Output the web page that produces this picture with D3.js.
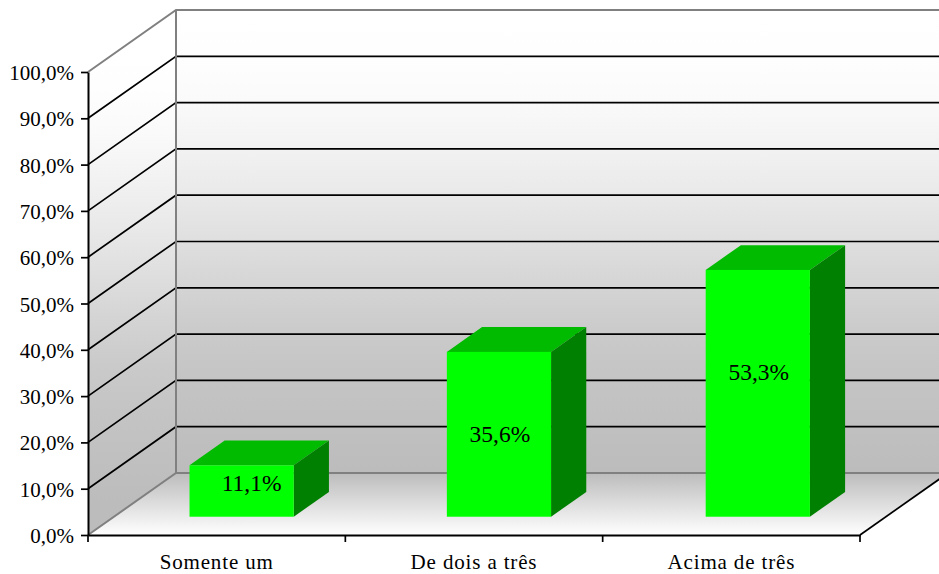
<!DOCTYPE html>
<html>
<head>
<meta charset="utf-8">
<script src="https://cdn.jsdelivr.net/npm/d3@7"></script>
<style>
html,body{margin:0;padding:0;background:#fff;overflow:hidden}
svg{display:block}
text{font-family:"Liberation Serif",serif;fill:#000}
</style>
</head>
<body>
<svg id="chart" width="939" height="574"></svg>
<script>
const categories = ["Somente um", "De dois a três", "Acima de três"];
const percentages = [11.1, 35.6, 53.3];
const tickValues = [0, 10, 20, 30, 40, 50, 60, 70, 80, 90, 100];

// Pseudo-3D frame: front plane plus the offset of the back wall.
const plot = {left: 88, right: 860, top: 72, bottom: 535};
const depth = {dx: 88, dy: -62};
const barDepthStart = 0.295, barDepthEnd = 0.695;
// Hand placement of the value labels, relative to each bar's front face centre.
const labelNudge = [[10, -8], [1, 0], [1, -21]];
const barNudge = [-1, -1, 0.5];

// Wall shading: height on the back wall paired with its grey.
const wallStops = [[10, "#ffffff"], [56, "#fefefe"], [102, "#fafafa"], [148, "#f2f2f2"],
  [195, "#e9e9e9"], [241, "#dfdfdf"], [288, "#d4d4d4"], [334, "#cacaca"],
  [381, "#c4c4c4"], [427, "#c0c0c0"], [473, "#bcbcbc"]];

const fmt = v => v.toFixed(1).replace(".", ",") + "%";

const svg = d3.select("#chart");
const y = d3.scaleLinear().domain([0, 100]).range([plot.bottom, plot.top]);
const x = d3.scaleBand().domain(categories).range([plot.left, plot.right]);
const barWidth = x.bandwidth() * 0.405;

const defs = svg.append("defs");
function vGradient(id, stops) {
  const y0 = stops[0][0], y1 = stops[stops.length - 1][0];
  const g = defs.append("linearGradient").attr("id", id)
    .attr("gradientUnits", "userSpaceOnUse")
    .attr("x1", 0).attr("x2", 0).attr("y1", y0).attr("y2", y1);
  stops.forEach(s => g.append("stop").attr("offset", (s[0] - y0) / (y1 - y0)).attr("stop-color", s[1]));
}
const backBottom = y(0) + depth.dy, backTop = y(100) + depth.dy;
vGradient("backWall", wallStops);
vGradient("sideWall", wallStops.map(s => [s[0] + 31, s[1]]));
vGradient("floor", [[backBottom, "#bcbcbc"], [plot.bottom, "#ffffff"]]);

const poly = pts => pts.map(p => p.join(",")).join(" ");

// Back wall, running off the right edge of the canvas
svg.append("polygon")
  .attr("points", poly([[plot.left + depth.dx, backTop], [plot.right + depth.dx, backTop],
                        [plot.right + depth.dx, backBottom], [plot.left + depth.dx, backBottom]]))
  .attr("fill", "url(#backWall)");

// Left side wall
svg.append("polygon")
  .attr("points", poly([[plot.left, y(100)], [plot.left + depth.dx, backTop],
                        [plot.left + depth.dx, backBottom], [plot.left, y(0)]]))
  .attr("fill", "url(#sideWall)");

// Floor
svg.append("polygon")
  .attr("points", poly([[plot.left, y(0)], [plot.left + depth.dx, backBottom],
                        [plot.right + depth.dx, backBottom], [plot.right, y(0)]]))
  .attr("fill", "url(#floor)");

// Gridlines on both walls; 0 and 100 take the grey frame colour
const grid = svg.append("g").attr("fill", "none");
tickValues.forEach(v => {
  const frame = v === 0 || v === 100;
  grid.append("polyline")
    .attr("points", poly([[plot.left, y(v)], [plot.left + depth.dx, y(v) + depth.dy],
                          [plot.right + depth.dx, y(v) + depth.dy]]))
    .attr("stroke", frame ? "#808080" : "#000")
    .attr("stroke-width", frame ? 2 : 1.7);
});
grid.append("line")
  .attr("x1", plot.left + depth.dx).attr("x2", plot.left + depth.dx)
  .attr("y1", backTop).attr("y2", backBottom)
  .attr("stroke", "#808080").attr("stroke-width", 2);

// Right edge of the floor
svg.append("line")
  .attr("x1", plot.right).attr("y1", y(0))
  .attr("x2", plot.right + depth.dx).attr("y2", backBottom)
  .attr("stroke", "#000").attr("stroke-width", 1.7);

// Bars as three faces each
const bars = svg.append("g").selectAll("g").data(percentages).join("g");
const geom = (v, i) => {
  const cx = x(categories[i]) + x.bandwidth() / 2 + depth.dx * barDepthStart + barNudge[i];
  const base = y(0) + depth.dy * barDepthStart;
  const h = y(0) - y(v);
  return {
    x0: cx - barWidth / 2, x1: cx + barWidth / 2, cx, base, top: base - h,
    ddx: depth.dx * (barDepthEnd - barDepthStart), ddy: depth.dy * (barDepthEnd - barDepthStart)
  };
};
bars.append("polygon").attr("fill", "#00bb00").attr("points", (v, i) => {
  const g = geom(v, i);
  return poly([[g.x0, g.top], [g.x1, g.top], [g.x1 + g.ddx, g.top + g.ddy], [g.x0 + g.ddx, g.top + g.ddy]]);
});
bars.append("polygon").attr("fill", "#008000").attr("points", (v, i) => {
  const g = geom(v, i);
  return poly([[g.x1, g.top], [g.x1 + g.ddx, g.top + g.ddy], [g.x1 + g.ddx, g.base + g.ddy], [g.x1, g.base]]);
});
bars.append("rect").attr("fill", "#00ff00")
  .attr("x", (v, i) => geom(v, i).x0)
  .attr("y", (v, i) => geom(v, i).top)
  .attr("width", barWidth)
  .attr("height", (v, i) => geom(v, i).base - geom(v, i).top);
bars.append("text")
  .attr("text-anchor", "middle").attr("dominant-baseline", "central")
  .attr("font-size", 23.5)
  .attr("x", (v, i) => geom(v, i).cx + labelNudge[i][0])
  .attr("y", (v, i) => (geom(v, i).top + geom(v, i).base) / 2 + labelNudge[i][1])
  .text(fmt);

// Axes
const yAxis = svg.append("g").attr("transform", `translate(${plot.left},0)`)
  .call(d3.axisLeft(y).tickValues(tickValues).tickFormat(fmt).tickSize(7).tickPadding(7).tickSizeOuter(0));
yAxis.selectAll(".tick text").attr("font-size", 21).attr("font-family", "Liberation Serif").attr("dy", "0.36em");

const xAxis = svg.append("g").attr("transform", `translate(0,${plot.bottom})`)
  .call(d3.axisBottom(x).tickSize(0).tickPadding(19));
xAxis.selectAll(".tick text").attr("font-size", 21).attr("font-family", "Liberation Serif")
  .attr("letter-spacing", 0.85);
[...categories.map(c => x(c)), plot.right].forEach(px => {
  xAxis.append("line").attr("x1", px).attr("x2", px).attr("y1", 0).attr("y2", 7)
    .attr("stroke", "#000").attr("stroke-width", 1.7);
});
svg.selectAll(".domain").attr("stroke", "#000").attr("stroke-width", 2);
yAxis.selectAll(".tick line").attr("stroke", "#000").attr("stroke-width", 1.7);
</script>
</body>
</html>
